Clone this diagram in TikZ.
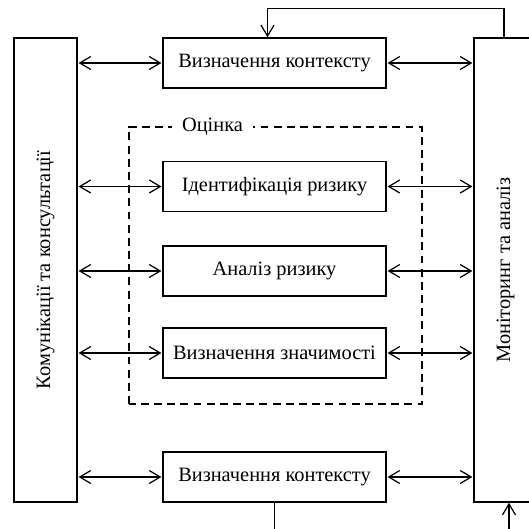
\documentclass[tikz,border=0pt]{standalone}
\usepackage{fontspec}
\setmainfont{Liberation Serif}
\usepackage{tikz}
\usetikzlibrary{arrows.meta,positioning}

\begin{document}
\begin{tikzpicture}[
  font=\fontsize{11.6}{13}\selectfont,
  blk/.style={draw, line width=0.8pt, minimum width=4.46cm, minimum height=1cm, align=center, inner sep=2pt},
  side/.style={draw, line width=0.8pt, minimum width=1.26cm, minimum height=9.28cm},
  link/.style={<->, line width=0.6pt, shorten <=0.5pt, shorten >=0.5pt},
  >={Straight Barb[length=2.2mm, width=2.6mm, line width=0.7pt]}
]
\useasboundingbox (0,0) rectangle (10.58,10.58);

% Side columns
\node[side] (komun) at (0.91,5.18) {};
\node[rotate=90] at (komun.center) {Комунікації та консультації};
\node[side] (monit) at (10.11,5.18) {};
\node[rotate=90] at (monit.center) {Моніторинг та аналіз};

% Process steps
\node[blk] (ctx1)  at (5.49,9.32) {Визначення контексту};
\node[blk] (ident) at (5.49,6.85) {Ідентифікація ризику};
\node[blk] (anal)  at (5.49,5.16) {Аналіз ризику};
\node[blk] (evalr) at (5.49,3.52) {Визначення значимості};
\node[blk] (ctx2)  at (5.49,1.04) {Визначення контексту};

% Assessment frame
\draw[line width=0.6pt, dash pattern=on 4.5pt off 3pt] (2.58,2.5) rectangle (8.44,8.04);
\node[fill=white, inner xsep=5.5pt, inner ysep=2pt] (ocin) at (4.25,8.04) {Оцінка};

% Links to both columns
\foreach \s in {ctx1, ident, anal, evalr, ctx2} {
  \draw[link] (komun.east |- \s.west) -- (\s.west);
  \draw[link] (\s.east) -- (monit.west |- \s.east);
}

% Feedback loops
\draw[->, line width=0.6pt] ([xshift=-0.3mm]monit.north) -- ++(0,0.57) -| ([xshift=-1.4mm]ctx1.north);
\coordinate (feed) at (10.18,0);
\draw[line width=0.6pt] (ctx2.south) -- (ctx2.south |- feed);
\draw[->, line width=0.6pt] (feed) -- (feed |- monit.south);

\end{tikzpicture}
\end{document}
